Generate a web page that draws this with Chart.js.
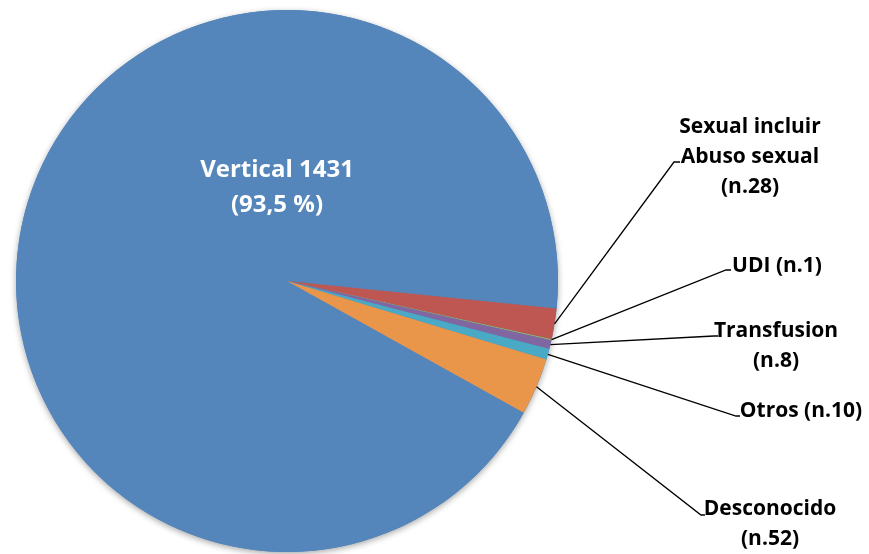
<!DOCTYPE html>
<html>
<head>
<meta charset="utf-8">
<script src="https://cdn.jsdelivr.net/npm/chart.js"></script>
<style>
  html, body { margin: 0; padding: 0; background: #fff; }
  #wrap { width: 869px; height: 554px; }
</style>
</head>
<body>
<div id="wrap"><canvas id="pie" width="869" height="554"></canvas></div>
<script>
// data
const categories = ['Vertical', 'Sexual incluir Abuso sexual', 'UDI', 'Transfusion', 'Otros', 'Desconocido'];
const counts = [1431, 28, 1, 8, 10, 52];
const labelLines = [
  ['Vertical 1431', '(93,5 %)'],
  ['Sexual incluir', 'Abuso sexual', '(n.28)'],
  ['UDI (n.1)'],
  ['Transfusion', '(n.8)'],
  ['Otros (n.10)'],
  ['Desconocido', '(n.52)']
];
const sliceColors = ['#5586BB', '#BE5752', '#9BBB59', '#8067A2', '#4AAAC5', '#E9964A'];

// where each label sits (elbow of leader, text centre, baselines)
const labelPlace = [
  { cx: 277, base: [177, 212], inside: true },
  { ex: 674, ey: 162, stub: 680, cx: 750, base: [133, 163, 193] },
  { ex: 726, ey: 270, stub: 731, cx: 777, base: [272] },
  { ex: 714, ey: 336, stub: 718, cx: 776, base: [337, 367] },
  { ex: 736, ey: 416, stub: 740, cx: 801, base: [417] },
  { ex: 701, ey: 515, stub: 705, cx: 770, base: [515, 545] }
];

const shadowPlugin = {
  id: 'pieShadow',
  beforeDatasetsDraw(chart) {
    const arc = chart.getDatasetMeta(0).data[0];
    if (!arc) return;
    const ctx = chart.ctx;
    ctx.save();
    ctx.shadowColor = 'rgba(0,0,0,0.35)';
    ctx.shadowBlur = 6;
    ctx.shadowOffsetY = 2;
    ctx.fillStyle = sliceColors[0];
    ctx.beginPath();
    ctx.arc(arc.x, arc.y, arc.outerRadius, 0, Math.PI * 2);
    ctx.fill();
    ctx.restore();
  }
};

const labelPlugin = {
  id: 'pieLabels',
  afterDatasetsDraw(chart) {
    const ctx = chart.ctx;
    const arcs = chart.getDatasetMeta(0).data;
    ctx.save();
    arcs.forEach((arc, i) => {
      const p = labelPlace[i];
      const lines = labelLines[i];
      if (p.inside) {
        ctx.fillStyle = '#ffffff';
        ctx.font = 'bold 24px "Open Sans"';
      } else {
        const mid = (arc.startAngle + arc.endAngle) / 2;
        const sx = arc.x + Math.cos(mid) * arc.outerRadius;
        const sy = arc.y + Math.sin(mid) * arc.outerRadius;
        ctx.strokeStyle = '#000';
        ctx.lineWidth = 1.3;
        ctx.beginPath();
        ctx.moveTo(sx, sy);
        ctx.lineTo(p.ex, p.ey);
        ctx.lineTo(p.stub, p.ey);
        ctx.stroke();
        ctx.fillStyle = '#000';
        ctx.font = 'bold 21px "Open Sans"';
      }
      ctx.textAlign = 'center';
      ctx.textBaseline = 'alphabetic';
      lines.forEach((t, k) => ctx.fillText(t, p.cx, p.base[k]));
    });
    ctx.restore();
  }
};

new Chart(document.getElementById('pie'), {
  type: 'pie',
  data: {
    labels: categories,
    datasets: [{
      data: counts,
      backgroundColor: sliceColors,
      borderWidth: 0
    }]
  },
  options: {
    responsive: false,
    animation: false,
    rotation: 119.1,
    layout: { padding: { left: 16, top: 10, right: 311, bottom: 2 } },
    plugins: {
      legend: { display: false },
      tooltip: { enabled: false }
    }
  },
  plugins: [shadowPlugin, labelPlugin]
});
</script>
</body>
</html>
